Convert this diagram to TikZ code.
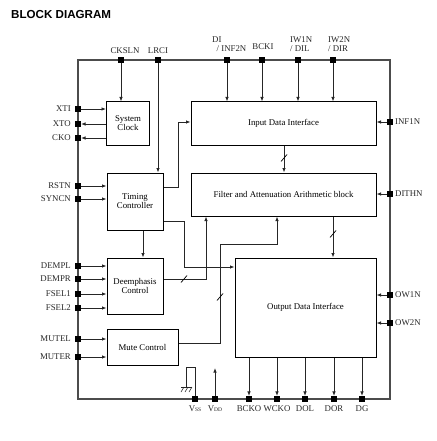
\documentclass[tikz,border=0pt]{standalone}
\usepackage{fontspec}
\setmainfont{Liberation Serif}
\newfontfamily\titlefont{Liberation Sans}
\usetikzlibrary{arrows.meta}
\begin{document}
\begin{tikzpicture}[x=1pt,y=-1pt,
  font=\fontsize{8.8}{9.2}\selectfont,
  frame/.style={draw=black!70,line width=1.1pt},
  blk/.style={draw=black,line width=1pt,rectangle,align=center,inner sep=0pt},
  pin/.style={fill=black,rectangle,minimum size=5.8pt,inner sep=0pt},
  wire/.style={draw=black!85,line width=0.85pt},
  arr/.style={wire,-{Latex[length=4.5pt,width=3.6pt]}},
  lab/.style={text=black!85,inner sep=0pt},
  slash/.style={draw=black,line width=0.7pt}
]
\useasboundingbox (0,0) rectangle (436,441);
\node[anchor=base west,inner sep=0pt,font=\titlefont\bfseries\fontsize{11.6}{12}\selectfont] (title) at (11,19) {BLOCK DIAGRAM};

% frame
\draw[frame] (78,60) rectangle (390,399);

% blocks
\node[blk,minimum width=43pt,minimum height=43pt] (sc) at (128,123.5) {System\\Clock};
\node[blk,minimum width=185pt,minimum height=43pt] (idi) at (283.5,123.5) {Input Data Interface};
\node[blk,minimum width=185pt,minimum height=43pt] (fa) at (283.5,194.5) {Filter and Attenuation Arithmetic block};
\node[blk,minimum width=56pt,minimum height=57pt] (tc) at (135,201.5) {Timing\\Controller};
\node[blk,minimum width=56pt,minimum height=56pt] (de) at (135,286) {Deemphasis\\Control};
\node[blk,minimum width=71pt,minimum height=36pt] (mc) at (142.5,347) {Mute Control};
\node[blk,minimum width=141pt,minimum height=99pt] (od) at (305.5,307.5) {Output Data Interface};

% top pins
\node[pin] (p-cksln) at (121,60) {};
\node[pin] (p-lrci) at (158,60) {};
\node[pin] (p-di) at (227,60) {};
\node[pin] (p-bcki) at (262,60) {};
\node[pin] (p-iw1n) at (298,60) {};
\node[pin] (p-iw2n) at (333,60) {};
\node[lab] (l-cksln) at (125,51) {CKSLN};
\node[lab] (l-lrci) at (158,51) {LRCI};
\node[lab,anchor=base west] (l-di1) at (212,43) {DI};
\node[lab,anchor=base west] (l-di2) at (216.5,52) {/ INF2N};
\node[lab] (l-bcki) at (263,47) {BCKI};
\node[lab,anchor=base west] (l-iw1a) at (290,43) {IW1N};
\node[lab,anchor=base west] (l-iw1b) at (290,52) {/ DIL};
\node[lab,anchor=base west] (l-iw2a) at (328,43) {IW2N};
\node[lab,anchor=base west] (l-iw2b) at (328,52) {/ DIR};

% left pins
\foreach \n/\t/\y in {xti/XTI/109,xto/XTO/124,cko/CKO/138,rstn/RSTN/186,syncn/SYNCN/199,dempl/DEMPL/266,dempr/DEMPR/279,fsel1/FSEL1/294,fsel2/FSEL2/308,mutel/MUTEL/339,muter/MUTER/357}{
  \node[pin] (p-\n) at (78,\y) {};
  \node[lab,anchor=east] (l-\n) at (71,\y) {\t};
}

% right pins
\foreach \n/\t/\y in {inf1n/INF1N/122,dithn/DITHN/194,ow1n/OW1N/295,ow2n/OW2N/323}{
  \node[pin] (p-\n) at (390,\y) {};
  \node[lab,anchor=west] (l-\n) at (395,\y) {\t};
}

% bottom pins
\node[pin] (p-vss) at (195,399) {};
\node[pin] (p-vdd) at (215,399) {};
\foreach \n/\t/\x in {bcko/BCKO/249,wcko/WCKO/277,dol/DOL/305,dor/DOR/334,dg/DG/362}{
  \node[pin] (p-\n) at (\x,399) {};
  \node[lab] (l-\n) at (\x,409) {\t};
}
\node[lab] (l-vss) at (195,409) {V{\fontsize{5.5}{6}\selectfont SS}};
\node[lab] (l-vdd) at (215,409) {V{\fontsize{5.5}{6}\selectfont DD}};

% top connections
\draw[arr] (p-cksln) -- (p-cksln |- sc.north);
\draw[arr] (p-lrci) -- (p-lrci |- tc.north);
\foreach \n in {di,bcki,iw1n,iw2n}{
  \draw[arr] (p-\n) -- (p-\n |- idi.north);
}

% left connections
\draw[arr] (p-xti) -- (p-xti -| sc.west);
\draw[arr] (p-xto -| sc.west) -- (p-xto);
\draw[arr] (p-cko -| sc.west) -- (p-cko);
\foreach \n in {rstn,syncn}{\draw[arr] (p-\n) -- (p-\n -| tc.west);}
\foreach \n in {dempl,dempr,fsel1,fsel2}{\draw[arr] (p-\n) -- (p-\n -| de.west);}
\foreach \n in {mutel,muter}{\draw[arr] (p-\n) -- (p-\n -| mc.west);}

% right connections
\draw[arr] (p-inf1n) -- (p-inf1n -| idi.east);
\draw[arr] (p-dithn) -- (p-dithn -| fa.east);
\draw[arr] (p-ow1n) -- (p-ow1n -| od.east);
\draw[arr] (p-ow2n) -- (p-ow2n -| od.east);

% bottom outputs
\foreach \n in {bcko,wcko,dol,dor,dg}{\draw[arr] (p-\n |- od.south) -- (p-\n);}

% internal
\coordinate (c1) at (178,187);
\coordinate (c2) at (178,122);
\draw[arr] (tc.east |- c1) -- (c1) -- (c2) -- (c2 -| idi.west);
\coordinate (c3) at (184,221);
\coordinate (c4) at (184,267);
\draw[arr] (tc.east |- c3) -- (c3) -- (c4) -- (c4 -| od.west);
\draw[arr] (tc.south -| 143,0) -- (de.north -| 143,0);
\coordinate (c5) at (206,279);
\draw[arr] (de.east |- c5) -- (c5) -- (c5 |- fa.south);
\coordinate (c6) at (220,343);
\coordinate (c7) at (220,244);
\coordinate (c8) at (277,244);
\draw[arr] (mc.east |- c6) -- (c6) -- (c7) -- (c8) -- (c8 |- fa.south);
\coordinate (c9) at (284,0);
\draw[arr] (c9 |- idi.south) -- (c9 |- fa.north);
\coordinate (c10) at (333,0);
\draw[arr] (c10 |- fa.south) -- (c10 |- od.north);

% slashes
\foreach \x/\y in {284/158,333/234,184/279,220/297}{
  \draw[slash] (\x-3,\y+3.5) -- (\x+3,\y-3.5);
}

% power
\coordinate (g1) at (195,367);
\coordinate (g2) at (186,367);
\coordinate (g3) at (186,387);
\draw[wire] (p-vss) -- (g1) -- (g2) -- (g3);
\draw[wire] (181,387) -- (192,387);
\foreach \x in {181,185,189}{\draw[wire,line width=0.55pt] (\x,392) -- (\x+3,387);}
\coordinate (v1) at (215,368);
\draw[arr] (p-vdd) -- (v1);
\end{tikzpicture}
\end{document}
